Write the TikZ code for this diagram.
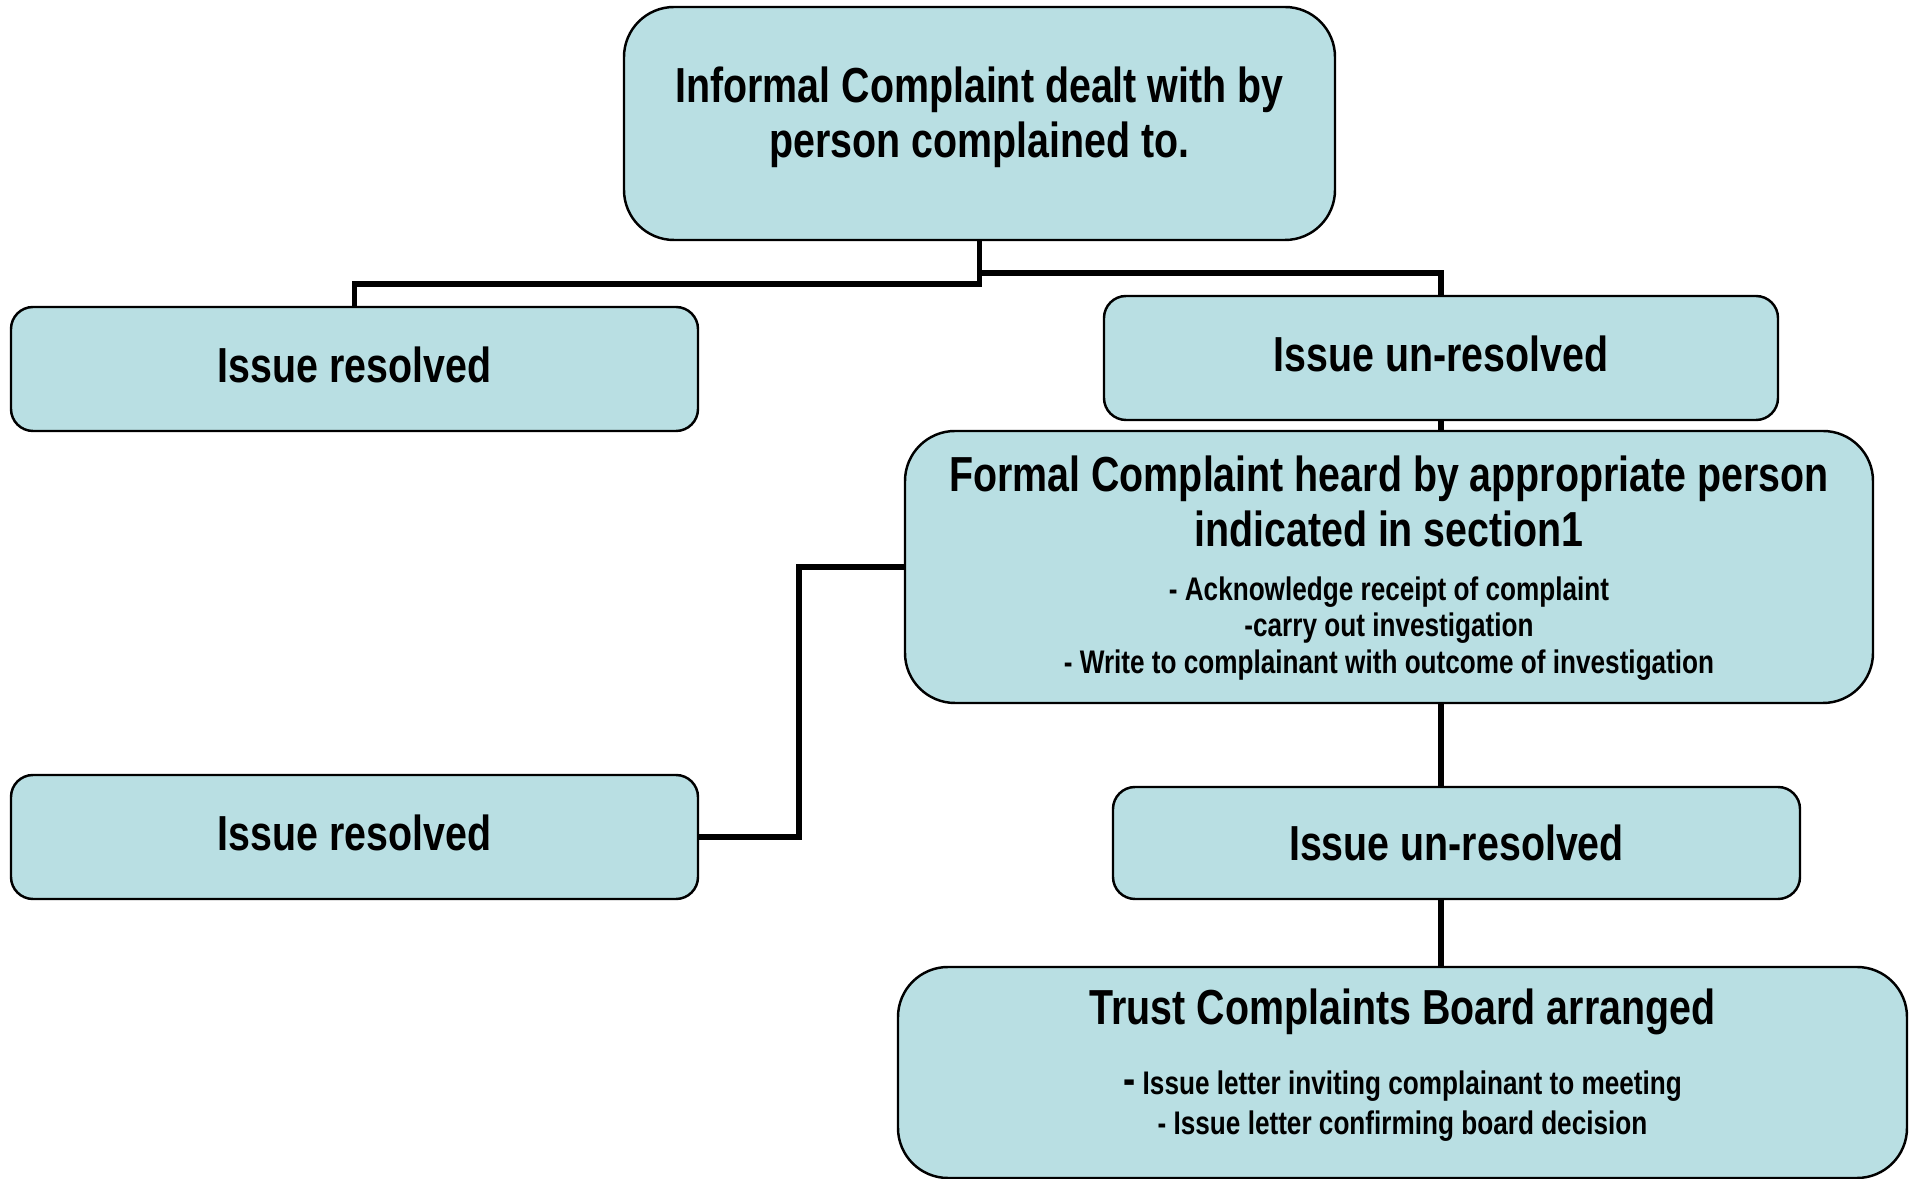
\documentclass[tikz,border=0pt]{standalone}
\usepackage{fontspec}
\setmainfont{Liberation Sans}[FakeStretch=0.8]
\usepackage{tikz}
\usetikzlibrary{positioning}
\definecolor{boxfill}{HTML}{B9DFE3}
\newcommand{\headsize}{\fontsize{14}{15.6}\selectfont\bfseries}
\newcommand{\notesize}{\fontsize{9.3}{10.4}\selectfont\bfseries}

\begin{document}
\begin{tikzpicture}[
  every node/.style={font=\headsize},
  box/.style={
    rectangle, rounded corners=2.2mm, draw=black, line width=0.7pt,
    fill=boxfill, align=center, inner sep=0pt,
  },
  bigbox/.style={box, rounded corners=5mm},
  link/.style={draw=black, line width=1.6pt},
]
\useasboundingbox (0,0) rectangle (19.10,-11.79);

\node[bigbox, minimum width=7.11cm, minimum height=2.33cm, text depth=6.5pt] (informal) at (9.795,-1.235)
  {Informal Complaint dealt with by\\person complained to.};

\node[box, minimum width=6.87cm, minimum height=1.24cm, text depth=2.6pt] (res1)   at (3.545,-3.69) {Issue resolved};
\node[box, minimum width=6.74cm, minimum height=1.24cm, text depth=2.6pt] (unres1) at (14.41,-3.58) {Issue un-resolved};

\node[bigbox, minimum width=9.68cm, minimum height=2.72cm, text depth=22.2pt] (formal) at (13.89,-5.67) {%
  Formal Complaint heard by appropriate person\\indicated in section1\\[-0.3pt]
  {\notesize\begin{tabular}[t]{@{}c@{}}
    - Acknowledge receipt of complaint\\
    -carry out investigation\\
    - Write to complainant with outcome of investigation
  \end{tabular}}};

\node[box, minimum width=6.87cm, minimum height=1.24cm, text depth=2.6pt] (res2)   at (3.545,-8.37) {Issue resolved};
\node[box, minimum width=6.87cm, minimum height=1.12cm] (unres2) at (14.565,-8.43) {Issue un-resolved};

\node[bigbox, minimum width=10.09cm, minimum height=2.11cm, text depth=17.7pt] (trust) at (14.025,-10.725) {%
  Trust Complaints Board arranged\\[4.4pt]
  {\notesize\renewcommand{\arraystretch}{1.1}\begin{tabular}[t]{@{}c@{}}
    {\fontsize{13}{13}\selectfont -} Issue letter inviting complainant to meeting\\
    - Issue letter confirming board decision
  \end{tabular}}};

\draw[link] (informal.south) -- ++(0,-0.43) -| (res1.north);
\draw[link] (informal.south) -- ++(0,-0.32) -| (unres1.north);
\draw[link] (unres1.south) -- (unres1.south |- formal.north);
\draw[link] (formal.west) -- ++(-1.05,0) |- (res2.east);
\draw[link] (unres1.south |- formal.south) -- (unres1.south |- unres2.north);
\draw[link] (unres1.south |- unres2.south) -- (unres1.south |- trust.north);
\end{tikzpicture}
\end{document}
